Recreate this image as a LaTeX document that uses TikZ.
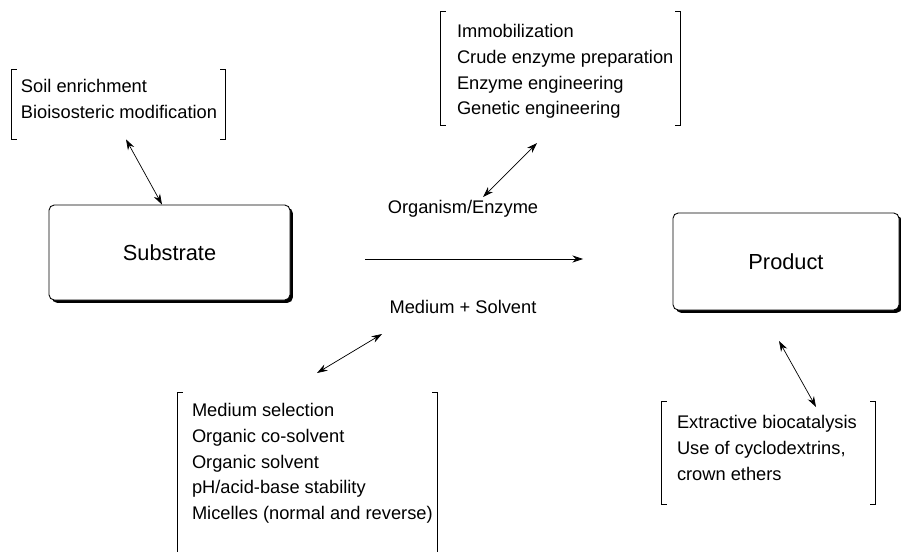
\documentclass[tikz,border=0pt]{standalone}
\usepackage{fontspec}
\setmainfont{Liberation Sans}
\usetikzlibrary{positioning, shadows, arrows.meta}
\tikzset{
mainbox/.style={draw, rectangle, rounded corners=3pt, line width=0.5pt, fill=white,
    font=\fontsize{12.4}{15}\selectfont,
    drop shadow={shadow xshift=1.6pt, shadow yshift=-1.6pt, fill=black, opacity=1}},
listbox/.style={rectangle, inner sep=0pt},
list/.style={align=left, inner sep=0pt, font=\fontsize{10.4}{14.74}\selectfont},
label/.style={inner sep=1pt, font=\fontsize{10.4}{14.74}\selectfont},
twoway/.style={{Stealth[length=6pt,width=4pt]}-{Stealth[length=6pt,width=4pt]}, line width=0.4pt},
oneway/.style={-{Stealth[length=6pt,width=4pt]}, line width=0.4pt},
}
% open and close brackets round a list box
\newcommand{\drawbrackets}[1]{
    \draw[line width=0.5pt] ([xshift=3pt]#1.north west) -- (#1.north west)
        -- (#1.south west) -- ([xshift=3pt]#1.south west);
    \draw[line width=0.5pt] ([xshift=-3pt]#1.north east) -- (#1.north east)
        -- (#1.south east) -- ([xshift=-3pt]#1.south east);
}

\begin{document}
\begin{tikzpicture}
    \clip (0,0) rectangle (18.02,11.02);

    %main boxes
    \node[mainbox, minimum width=4.82cm, minimum height=1.9cm]  (substrate) at (3.39,5.97) {Substrate};
    \node[mainbox, minimum width=4.52cm, minimum height=1.94cm] (product)   at (15.72,5.79) {Product};

    %labels on the reaction arrow
    \node[label] (organism) at (9.26,6.84) {Organism/Enzyme};
    \node[label] (medium)   at (9.26,4.88) {Medium + Solvent};

    %bracketed lists
    \node[listbox, minimum width=4.26cm, minimum height=1.38cm] (soilbox)  at (2.37,8.93) {};
    \node[listbox, minimum width=4.78cm, minimum height=2.26cm] (enzbox)   at (11.21,9.65) {};
    \node[listbox, minimum width=5.18cm, minimum height=3.34cm] (solvbox)  at (6.15,1.49) {};
    \node[listbox, minimum width=4.26cm, minimum height=2.04cm] (prodbox)  at (15.37,1.96) {};

    \node[list, below right=0.18cm and 0.18cm of soilbox.north west] (soil)
        {Soil enrichment\\Bioisosteric modification};
    \node[list, below right=0.24cm and 0.32cm of enzbox.north west] (enz)
        {Immobilization\\Crude enzyme preparation\\Enzyme engineering\\Genetic engineering};
    \node[list, below right=0.20cm and 0.28cm of solvbox.north west] (solv)
        {Medium selection\\Organic co-solvent\\Organic solvent\\pH/acid-base stability\\Micelles (normal and reverse)};
    \node[list, below right=0.26cm and 0.30cm of prodbox.north west] (extr)
        {Extractive biocatalysis\\Use of cyclodextrins,\\crown ethers};

    \drawbrackets{soilbox}
    \drawbrackets{enzbox}
    \drawbrackets{solvbox}
    \drawbrackets{prodbox}

    %arrow ends
    \coordinate (r1) at (7.30,5.84);
    \coordinate (r2) at (11.66,5.84);
    \coordinate (e1) at (10.74,8.16);
    \coordinate (e2) at (9.66,7.08);
    \coordinate (m1) at (7.64,4.34);
    \coordinate (m2) at (6.34,3.56);
    \coordinate (p1) at (15.58,4.20);
    \coordinate (p2) at (16.32,2.88);

    %reaction arrow
    \draw[oneway] (r1)--(r2);

    %double arrows to the lists
    \draw[twoway] ([xshift=0.15cm]soilbox.south)--([xshift=-0.15cm]substrate.north);
    \draw[twoway] (e1)--(e2);
    \draw[twoway] (m1)--(m2);
    \draw[twoway] (p1)--(p2);

\end{tikzpicture}
\end{document}
